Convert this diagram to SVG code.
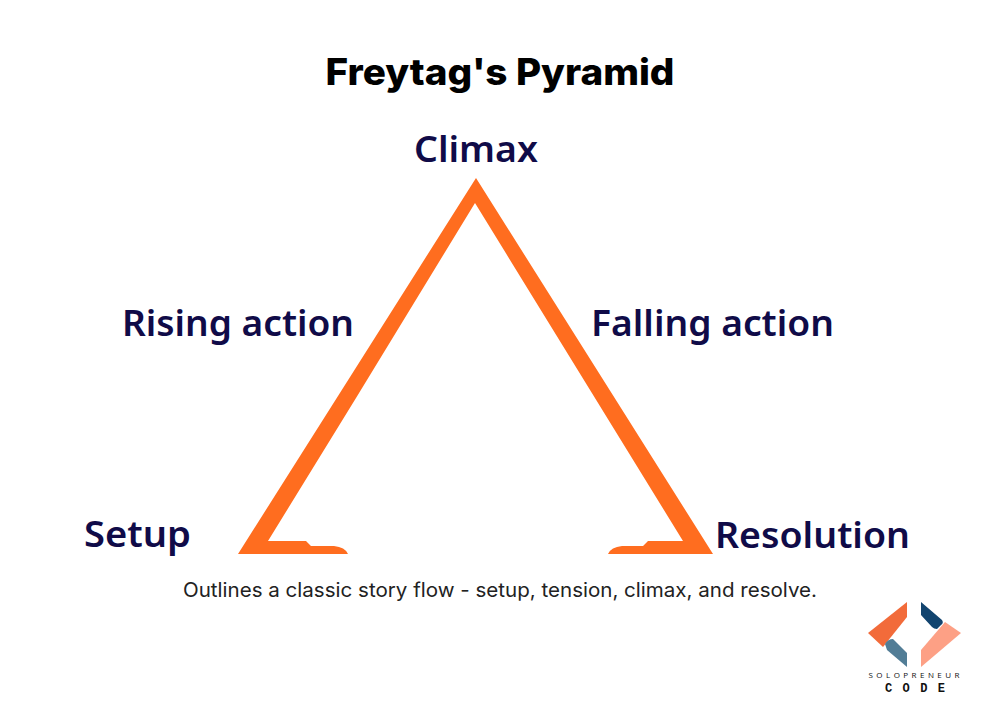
<svg xmlns="http://www.w3.org/2000/svg" width="1000" height="720" viewBox="0 0 1000 720">
<style>
.t{font-family:"Noto Sans","Open Sans",sans-serif;font-weight:600;fill:#100b48;font-size:36px}
</style>
<rect width="1000" height="720" fill="#fff"/>
<g id="title"><text x="500" y="85" text-anchor="middle" font-family="Inter,'Liberation Sans',sans-serif" font-weight="800" font-size="37" fill="#000" textLength="349" lengthAdjust="spacingAndGlyphs">Freytag's Pyramid</text></g>
<g id="pyramid"><path d="M476 178L713 554H608Q611 547 622 546L643 546L648 541H683L475 203L356 398L268 541H306L311 546H334Q345 547 348 554H238Z" fill="#ff6d1f"/></g>
<g id="climax"><text class="t" x="476" y="162" text-anchor="middle" textLength="124" lengthAdjust="spacingAndGlyphs">Climax</text></g>
<g id="rising"><text class="t" x="122" y="336" textLength="232" lengthAdjust="spacingAndGlyphs">Rising action</text></g>
<g id="falling"><text class="t" x="591" y="336" textLength="243" lengthAdjust="spacingAndGlyphs">Falling action</text></g>
<g id="setup"><text class="t" x="84" y="547" textLength="107" lengthAdjust="spacingAndGlyphs">Setup</text></g>
<g id="resolution"><text class="t" x="715" y="548" textLength="195" lengthAdjust="spacingAndGlyphs">Resolution</text></g>
<g id="caption"><text x="500" y="597" text-anchor="middle" font-family="Inter,'Open Sans',sans-serif" font-size="20" fill="#222" textLength="634" lengthAdjust="spacingAndGlyphs">Outlines a classic story flow - setup, tension, climax, and resolve.</text></g>
<g id="logo">
<path d="M907 602V617L883 647L868 633Z" fill="#f26b3a"/>
<path d="M885 644Q888 639 893 639L907 653V667L887 650Z" fill="#527d96"/>
<path d="M921 602L942 620Q944 623 941 625L937 629Q934 629 932 627L921 615Z" fill="#12446f"/>
<path d="M945 622L961 633L921 667V650Z" fill="#fda085"/>
<text x="914" y="678" text-anchor="middle" font-family="'Open Sans',sans-serif" font-size="8" fill="#111" textLength="91">SOLOPRENEUR</text>
<text x="915" y="692" text-anchor="middle" font-family="'Liberation Mono',monospace" font-weight="700" font-size="12" fill="#111" textLength="60">CODE</text>
</g>
</svg>
